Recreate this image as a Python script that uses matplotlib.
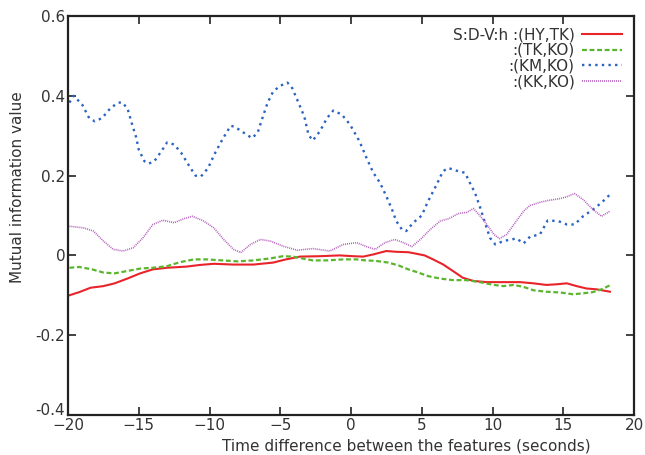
import numpy as np
import matplotlib
matplotlib.use("Agg")
import matplotlib.pyplot as plt
import matplotlib.transforms as mtransforms

# Series: (x, y)
hy_tk_x = [-19.9, -19.2, -18.4, -17.5, -16.7, -15.8, -14.9, -14.0, -13.0, -11.6, -10.7, -9.7, -8.3, -6.9,
           -5.5, -4.6, -3.6, -2.2, -0.8, 0.16, 0.87, 1.58, 2.5, 3.2, 4.05, 4.64, 5.2, 5.8, 6.5, 7.2, 7.9,
           8.65, 9.6, 10.77, 11.95, 12.9, 13.8, 14.5, 15.25, 15.95, 16.65, 17.35, 18.3]
hy_tk_y = [-0.100, -0.092, -0.081, -0.077, -0.070, -0.058, -0.045, -0.035, -0.031, -0.028, -0.024, -0.021,
           -0.023, -0.023, -0.018, -0.010, -0.003, -0.002, 0.000, -0.002, -0.003, 0.0025, 0.011, 0.009,
           0.008, 0.004, 0.000, -0.010, -0.0225, -0.039, -0.056, -0.064, -0.067, -0.067, -0.067, -0.070,
           -0.074, -0.0725, -0.070, -0.077, -0.083, -0.085, -0.091]

tk_ko_x = [-19.9, -19.2, -18.3, -17.5, -16.7, -15.8, -14.9, -14.0, -13.0, -12.1, -11.1, -10.2, -9.1, -8.0,
           -6.9, -5.7, -4.8, -4.1, -3.4, -2.7, -1.7, -0.54, 0.4, 0.87, 1.8, 2.64, 3.35, 4.05, 4.76, 5.45,
           6.3, 7.2, 8.2, 9.1, 10.1, 10.77, 11.5, 12.2, 12.9, 13.8, 14.8, 15.7, 16.4, 17.1, 17.7, 18.3]
tk_ko_y = [-0.031, -0.029, -0.035, -0.043, -0.045, -0.039, -0.033, -0.031, -0.027, -0.017, -0.010, -0.010,
           -0.0125, -0.015, -0.0125, -0.0075, -0.002, -0.003, -0.008, -0.0125, -0.0125, -0.010, -0.010,
           -0.012, -0.014, -0.018, -0.025, -0.035, -0.043, -0.052, -0.058, -0.062, -0.062, -0.067, -0.074,
           -0.077, -0.074, -0.079, -0.0875, -0.091, -0.093, -0.0975, -0.095, -0.092, -0.085, -0.075]

km_ko_x = [-19.9, -19.6, -19.0, -18.5, -18.1, -17.6, -17.0, -16.5, -16.2, -15.8, -15.5, -15.2, -15.0, -14.6,
           -14.3, -13.9, -13.4, -13.0, -12.5, -12.0, -11.5, -11.0, -10.6, -10.1, -9.6, -9.1, -8.5, -8.2,
           -7.6, -7.0, -6.6, -6.3, -5.9, -5.5, -5.0, -4.5, -4.2, -3.8, -3.3, -3.0, -2.7, -2.2, -1.7, -1.25,
           -0.65, -0.07, 0.6, 1.1, 1.58, 2.05, 2.5, 2.9, 3.2, 3.6, 3.9, 4.4, 5.0, 5.45, 6.06, 6.5, 6.88,
           7.58, 8.06, 8.4, 8.76, 9.1, 9.47, 9.82, 10.2, 10.77, 11.7, 12.2, 12.65, 13.35, 13.9, 14.65,
           15.25, 15.8, 16.4, 17.1, 17.7, 18.3]
km_ko_y = [0.383, 0.400, 0.378, 0.344, 0.336, 0.344, 0.369, 0.382, 0.384, 0.369, 0.332, 0.298, 0.265, 0.236,
           0.230, 0.236, 0.261, 0.283, 0.278, 0.257, 0.228, 0.200, 0.198, 0.219, 0.257, 0.290, 0.325, 0.322,
           0.308, 0.294, 0.307, 0.340, 0.382, 0.411, 0.425, 0.433, 0.423, 0.390, 0.348, 0.302, 0.288, 0.311,
           0.344, 0.363, 0.353, 0.328, 0.286, 0.244, 0.207, 0.182, 0.148, 0.115, 0.086, 0.065, 0.061, 0.082,
           0.100, 0.136, 0.178, 0.211, 0.219, 0.211, 0.207, 0.182, 0.157, 0.123, 0.082, 0.044, 0.0275, 0.036,
           0.0425, 0.030, 0.047, 0.0525, 0.0875, 0.086, 0.0775, 0.0775, 0.098, 0.115, 0.132, 0.1525]

kk_ko_x = [-19.9, -18.9, -18.2, -17.5, -16.8, -16.1, -15.4, -14.7, -14.0, -13.3, -12.5, -11.8, -11.2, -10.4,
           -9.7, -9.0, -8.3, -7.8, -7.1, -6.4, -5.7, -4.8, -3.8, -2.7, -1.5, -0.54, 0.4, 1.1, 1.7, 2.4, 3.1,
           3.7, 4.3, 4.9, 5.6, 6.3, 6.9, 7.6, 8.2, 8.65, 9.1, 9.6, 10.1, 10.5, 11.0, 11.6, 12.2, 12.65,
           13.35, 13.9, 14.8, 15.25, 15.8, 16.4, 17.1, 17.7, 18.3]
kk_ko_y = [0.073, 0.069, 0.061, 0.036, 0.015, 0.011, 0.019, 0.044, 0.0775, 0.088, 0.082, 0.092, 0.098, 0.086,
           0.069, 0.040, 0.015, 0.007, 0.0275, 0.040, 0.036, 0.023, 0.013, 0.017, 0.011, 0.0275, 0.032, 0.022,
           0.015, 0.032, 0.040, 0.032, 0.022, 0.040, 0.065, 0.086, 0.092, 0.105, 0.108, 0.1175, 0.100, 0.0775,
           0.0525, 0.042, 0.0525, 0.082, 0.111, 0.125, 0.133, 0.1375, 0.1425, 0.147, 0.155, 0.140, 0.115,
           0.098, 0.111]

labels = ["S:D-V:h :(HY,TK)", ":(TK,KO)", ":(KM,KO)", ":(KK,KO)"]
x_ticks = [-20, -15, -10, -5, 0, 5, 10, 15, 20]
y_ticks = [-0.4, -0.2, 0, 0.2, 0.4, 0.6]
y_tick_labels = ["-0.4", "-0.2", "0", "0.2", "0.4", "0.6"]

plt.rcParams['font.family'] = ['DejaVu Sans']
txt = '#333333'

fig = plt.figure(figsize=(6.45, 4.55), dpi=100)
ax = fig.add_axes([68/645, 1-415/455, (634-68)/645, (415-16)/455])

ax.plot(hy_tk_x, hy_tk_y, color='#e8242a', lw=1.5, label=labels[0])
ax.plot(tk_ko_x, tk_ko_y, color='#5bb52e', lw=1.6, ls=(0, (2.2, 1.2)), label=labels[1])
ax.plot(km_ko_x, km_ko_y, color='#2a62c0', lw=1.7, ls=(0, (1, 1.8)), label=labels[2])
ax.plot(kk_ko_x, kk_ko_y, color='#b65fc0', lw=1.2, ls=(0, (0.6, 0.6)), label=labels[3])

ax.set_xlim(-20, 20)
ax.set_ylim(-0.4, 0.6)
ax.set_xticks(x_ticks)
ax.set_yticks(y_ticks)
ax.set_yticklabels(y_tick_labels)
ax.tick_params(direction='in', length=6, width=1.2, top=True, right=True, labelsize=11,
               colors='#222222', labelcolor=txt, pad=2)
ax.tick_params(axis='x', pad=2)
for s in ax.spines.values():
    s.set_linewidth(1.6)
    s.set_color('#222222')

# nudge the bottom y label up slightly so it doesn't collide with "-20"
lab0 = ax.get_yticklabels()[0]
lab0.set_transform(lab0.get_transform() + mtransforms.ScaledTranslation(0, 4/72, fig.dpi_scale_trans))

ax.set_xlabel("Time difference between the features (seconds)", fontsize=11, color=txt, labelpad=0)
ax.xaxis.set_label_coords(0.597, -0.058)
ax.set_ylabel("Mutual information value", fontsize=11, color=txt)
ax.yaxis.set_label_coords(-0.076, 0.57)

leg = ax.legend(loc='upper right', bbox_to_anchor=(0.995, 0.995), frameon=False, markerfirst=False,
                fontsize=11, handlelength=2.6, handletextpad=0.5, labelspacing=0.05, borderaxespad=0.2)
for t in leg.get_texts():
    t.set_color(txt)
    t.set_ha('right')

fig.savefig("out.png", dpi=100)
